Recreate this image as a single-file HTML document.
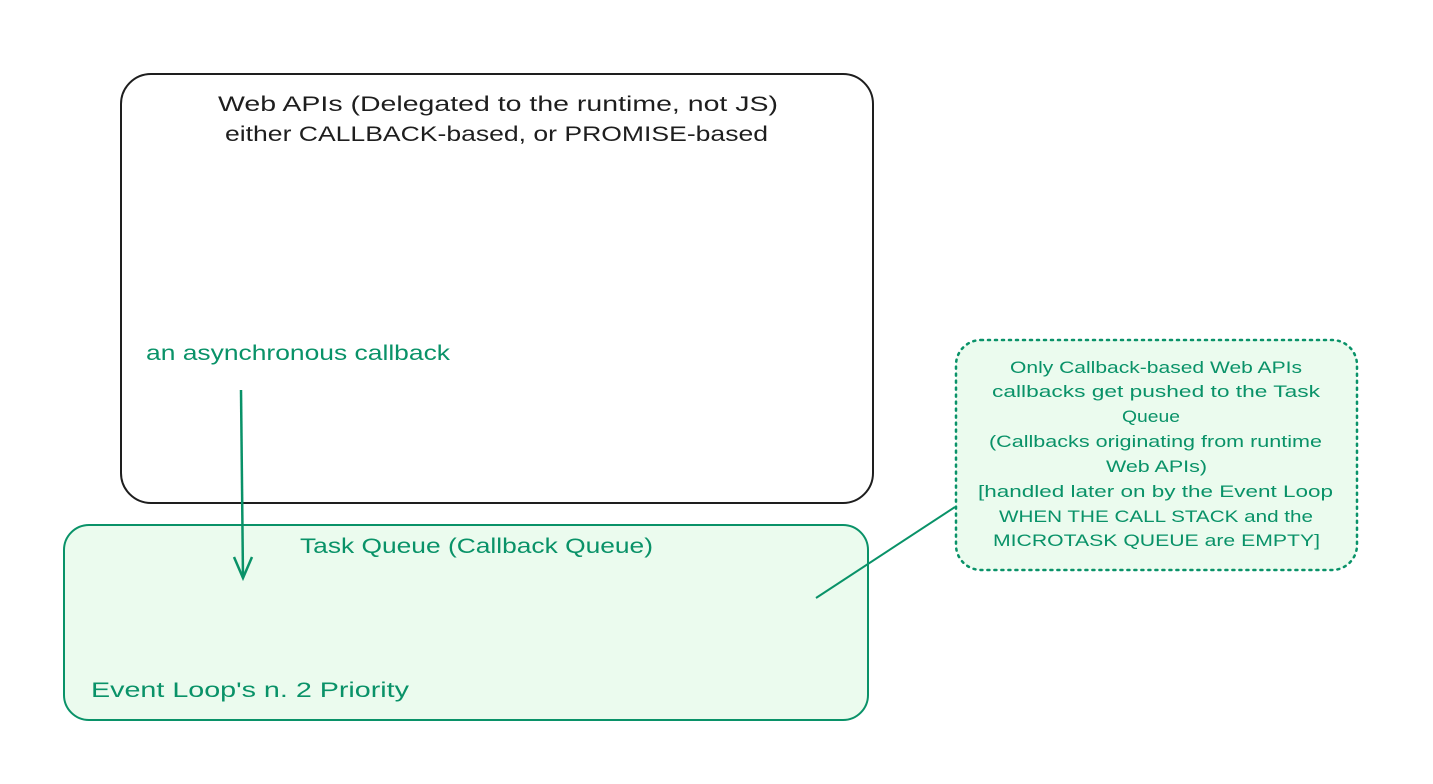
<!DOCTYPE html>
<html><head><meta charset="utf-8"><style>
html,body{margin:0;padding:0;background:#fff;width:1433px;height:784px;overflow:hidden}
text{font-family:"Liberation Sans",sans-serif}
</style></head><body>
<svg width="1433" height="784" viewBox="0 0 1433 784" xmlns="http://www.w3.org/2000/svg">
<rect x="121" y="74" width="752" height="429" rx="30" fill="#fff" stroke="#1e1e1e" stroke-width="2"/>
<text x="218" y="111" font-size="21" textLength="560" lengthAdjust="spacingAndGlyphs" fill="#1e1e1e">Web APIs (Delegated to the runtime, not JS)</text>
<text x="225" y="141" font-size="21" textLength="543" lengthAdjust="spacingAndGlyphs" fill="#1e1e1e">either CALLBACK-based, or PROMISE-based</text>
<text x="146" y="360" font-size="21" textLength="304" lengthAdjust="spacingAndGlyphs" fill="#099268">an asynchronous callback</text>
<rect x="64" y="525" width="804" height="195" rx="25" fill="#ebfbee" stroke="#099268" stroke-width="2"/>
<text x="300" y="553" font-size="21" textLength="353" lengthAdjust="spacingAndGlyphs" fill="#099268">Task Queue (Callback Queue)</text>
<text x="91" y="697" font-size="21" textLength="318" lengthAdjust="spacingAndGlyphs" fill="#099268">Event Loop's n. 2 Priority</text>
<path d="M241 390 L243 578" stroke="#099268" stroke-width="2.5" fill="none"/>
<path d="M234 557 L243 578 L252 557" stroke="#099268" stroke-width="2.5" fill="none"/>
<line x1="955" y1="507" x2="816" y2="598" stroke="#099268" stroke-width="2"/>
<rect x="956" y="340" width="401" height="230" rx="25" fill="#ebfbee" stroke="#099268" stroke-width="2.5" stroke-dasharray="2 5" stroke-linecap="round"/>
<g font-size="17" fill="#099268" lengthAdjust="spacingAndGlyphs">
<text x="1010" y="373" textLength="292" lengthAdjust="spacingAndGlyphs">Only Callback-based Web APIs</text>
<text x="992" y="397" textLength="328" lengthAdjust="spacingAndGlyphs">callbacks get pushed to the Task</text>
<text x="1122" y="422" textLength="58" lengthAdjust="spacingAndGlyphs">Queue</text>
<text x="989" y="447" textLength="333" lengthAdjust="spacingAndGlyphs">(Callbacks originating from runtime</text>
<text x="1106" y="472" textLength="101" lengthAdjust="spacingAndGlyphs">Web APIs)</text>
<text x="978" y="497" textLength="355" lengthAdjust="spacingAndGlyphs">[handled later on by the Event Loop</text>
<text x="999" y="522" textLength="314" lengthAdjust="spacingAndGlyphs">WHEN THE CALL STACK and the</text>
<text x="993" y="546" textLength="327" lengthAdjust="spacingAndGlyphs">MICROTASK QUEUE are EMPTY]</text>
</g>
</svg>
</body></html>
